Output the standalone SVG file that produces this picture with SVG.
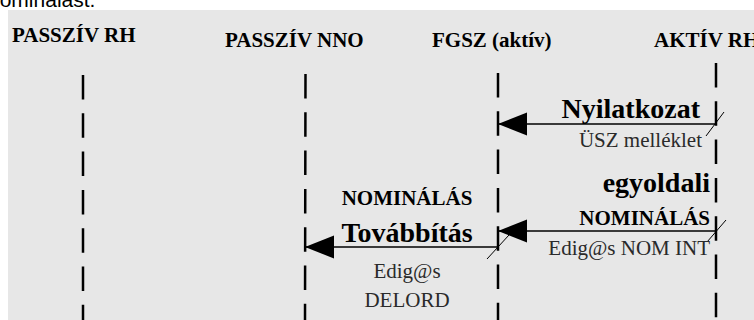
<svg xmlns="http://www.w3.org/2000/svg" width="754" height="320" viewBox="0 0 754 320">
<style>
.hdr{font-family:"Liberation Serif","Times New Roman",serif;font-weight:bold;font-size:21px;fill:#000}
.big{font-family:"Liberation Serif","Times New Roman",serif;font-weight:bold;font-size:28px;fill:#000}
.bold{font-family:"Liberation Serif","Times New Roman",serif;font-weight:bold;font-size:21px;fill:#000}
.reg{font-family:"Liberation Serif","Times New Roman",serif;font-size:21px;fill:#2a2a2a}
.life{stroke:#000;stroke-width:2.5;fill:none;stroke-dasharray:24.5 13.8}
.msg{stroke:#000;stroke-width:1.3;fill:none}
.slash{stroke:#000;stroke-width:1;fill:none}
</style>
<defs>
<marker id="ah" markerUnits="userSpaceOnUse" markerWidth="30" markerHeight="24" refX="29" refY="11.5" orient="auto" viewBox="0 0 30 24">
<path d="M0,0 L29,11.5 L0,23 z" fill="#000"/>
</marker>
</defs>
<rect x="0" y="0" width="754" height="320" fill="#ffffff"/>
<text x="-12" y="7" font-family="'Liberation Sans',Arial,sans-serif" font-size="21" fill="#000">nominálást.</text>
<rect x="8" y="10" width="746" height="310" fill="#e7e7e7"/>

<g id="passziv-rh">
<text class="hdr" x="12" y="42">PASSZÍV RH</text>
<line class="life" x1="83" y1="75" x2="83" y2="320"/>
</g>
<g id="passziv-nno">
<text class="hdr" x="225" y="47">PASSZÍV NNO</text>
<line class="life" x1="305.5" y1="74" x2="305" y2="320"/>
</g>
<g id="fgsz">
<text class="hdr" x="432" y="47">FGSZ (aktív)</text>
<line class="life" x1="498" y1="73" x2="498" y2="320"/>
</g>
<g id="aktiv-rh">
<text class="hdr" x="654" y="47">AKTÍV RH</text>
<line class="life" x1="716" y1="63" x2="716" y2="320"/>
</g>

<g id="connectors">
<line class="msg" x1="716" y1="124" x2="498" y2="124" marker-end="url(#ah)"/>
<line class="slash" x1="706" y1="136" x2="724" y2="112"/>
<line class="msg" x1="716" y1="231" x2="498" y2="231" marker-end="url(#ah)"/>
<line class="slash" x1="707" y1="242" x2="726" y2="220"/>
<line class="msg" x1="498" y1="247" x2="305" y2="247" marker-end="url(#ah)"/>
<line class="slash" x1="487" y1="259" x2="509" y2="235"/>
</g>

<g id="labels">
<text class="big" x="700" y="118" text-anchor="end">Nyilatkozat</text>
<text class="reg" x="702" y="147" text-anchor="end">ÜSZ melléklet</text>
<text class="big" x="710" y="192" text-anchor="end" font-size="27">egyoldali</text>
<text class="bold" x="710" y="225" text-anchor="end">NOMINÁLÁS</text>
<text class="reg" x="710" y="255" text-anchor="end">Edig@s NOM INT</text>
<text class="bold" x="407" y="205" text-anchor="middle">NOMINÁLÁS</text>
<text class="big" x="407" y="242" text-anchor="middle">Továbbítás</text>
<text class="reg" x="407" y="278" text-anchor="middle">Edig@s</text>
<text class="reg" x="407" y="307" text-anchor="middle">DELORD</text>
</g>
</svg>
